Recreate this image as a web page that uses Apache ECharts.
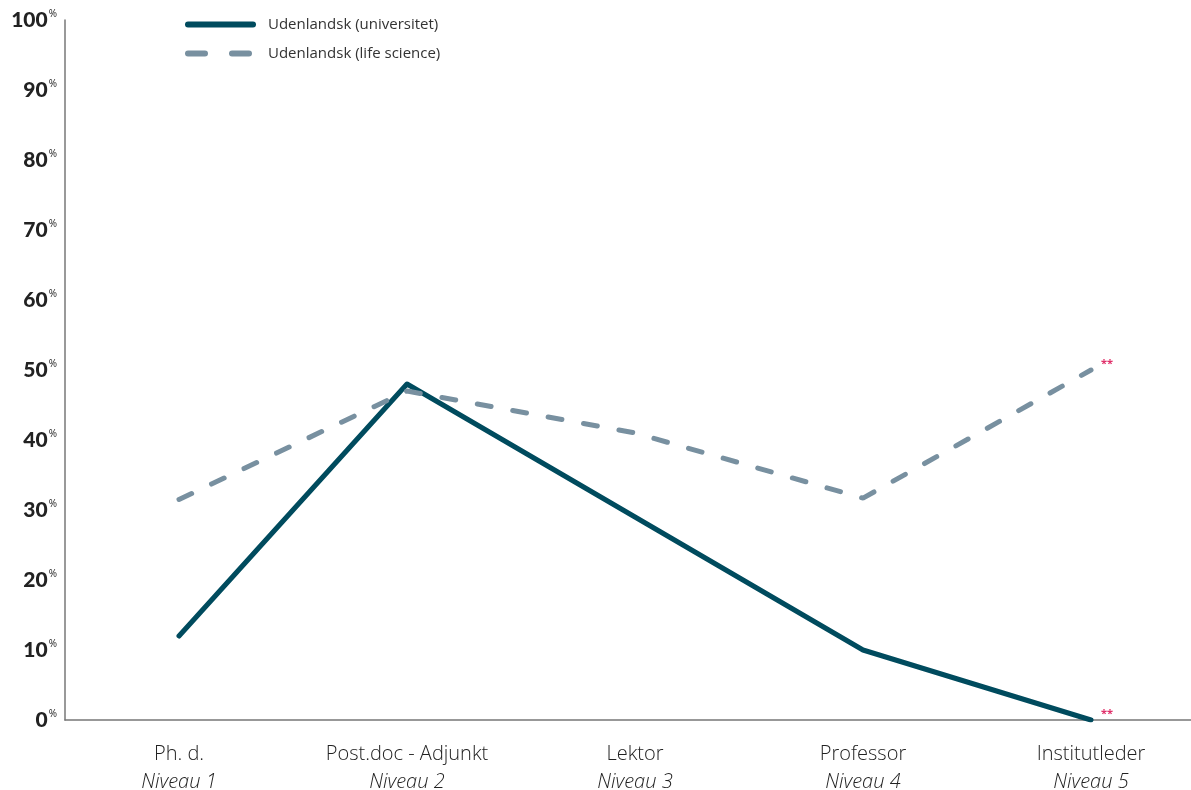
<!DOCTYPE html>
<html>
<head>
<meta charset="utf-8">
<script src="https://cdn.jsdelivr.net/npm/echarts@6/dist/echarts.min.js"></script>
<style>
	html, body { margin: 0; padding: 0; background: #fff; }
	#chart { width: 1191px; height: 790px; }
</style>
</head>
<body>
<div id="chart"></div>
<script>
const positions = ['Ph. d.', 'Post.doc - Adjunkt', 'Lektor', 'Professor', 'Institutleder']
const levels = ['Niveau 1', 'Niveau 2', 'Niveau 3', 'Niveau 4', 'Niveau 5']
const universitet = [12, 48, 29, 10, 0]
const lifeScience = [31.5, 47, 41, 31.7, 50]
const noteIndex = [4]

const chart = echarts.init(document.getElementById('chart'))

// only the noted points get a visible "**" label
const withNotes = (values) =>
	values.map((v, i) =>
		noteIndex.includes(i)
			? {
					value: v,
					label: {
						show: true,
						position: 'right',
						distance: 10,
						offset: [0, -6],
						formatter: '**',
						color: '#e0306a',
						fontSize: 11,
						fontWeight: 'bold'
					}
			  }
			: v
	)

const options = {
	animation: false,
	textStyle: { fontFamily: 'Open Sans' },
	grid: {
		left: 65,
		top: 20,
		bottom: 70,
		width: 1140,
		outerBoundsMode: 'none'
	},
	legend: {
		orient: 'vertical',
		left: 180,
		top: 12,
		itemWidth: 65,
		itemHeight: 14,
		itemGap: 14,
		itemStyle: { opacity: 0 },
		textStyle: { fontSize: 15, color: '#333', padding: [0, 0, 0, 10] },
		data: [
			{ name: 'Udenlandsk (universitet)', lineStyle: { width: 6, cap: 'round' } },
			{ name: 'Udenlandsk (life science)', lineStyle: { width: 6, cap: 'round', type: [17, 27] } }
		]
	},
	xAxis: {
		type: 'category',
		data: positions.map((p, i) => p + '\n' + levels[i]),
		boundaryGap: true,
		axisLine: { lineStyle: { color: '#777', width: 1.5 } },
		axisTick: { show: false },
		axisLabel: {
			margin: 20,
			interval: 0,
			formatter: (val) => {
				const [a, b] = val.split('\n')
				return '{t|' + a + '}\n{s|' + b + '}'
			},
			rich: {
				t: { fontSize: 20, fontWeight: 300, color: '#222', lineHeight: 28 },
				s: { fontSize: 20, fontWeight: 300, color: '#222', fontStyle: 'italic', lineHeight: 28 }
			}
		}
	},
	yAxis: {
		type: 'value',
		min: 0,
		max: 100,
		interval: 10,
		splitLine: { show: false },
		axisLine: { show: true, lineStyle: { color: '#777', width: 1.5 } },
		axisTick: { show: false },
		axisLabel: {
			margin: 8,
			formatter: (v) => '{n|' + v + '}{p|%}',
			rich: {
				n: { fontFamily: 'Lato', fontSize: 21, fontWeight: 900, color: '#222', verticalAlign: 'bottom' },
				p: { fontSize: 10, color: '#222', verticalAlign: 'top', padding: [0, 0, 8, 1] }
			}
		}
	},
	series: [
		{
			name: 'Udenlandsk (universitet)',
			type: 'line',
			symbol: 'circle',
			symbolSize: 0,
			data: withNotes(universitet),
			lineStyle: { color: '#004b5e', width: 5, cap: 'round', join: 'round' },
			itemStyle: { color: '#004b5e' }
		},
		{
			name: 'Udenlandsk (life science)',
			type: 'line',
			symbol: 'circle',
			symbolSize: 0,
			data: withNotes(lifeScience),
			lineStyle: { color: '#7890a0', width: 5, type: [14, 22], cap: 'round' },
			itemStyle: { color: '#7890a0' }
		}
	]
}

chart.setOption(options)
</script>
</body>
</html>
